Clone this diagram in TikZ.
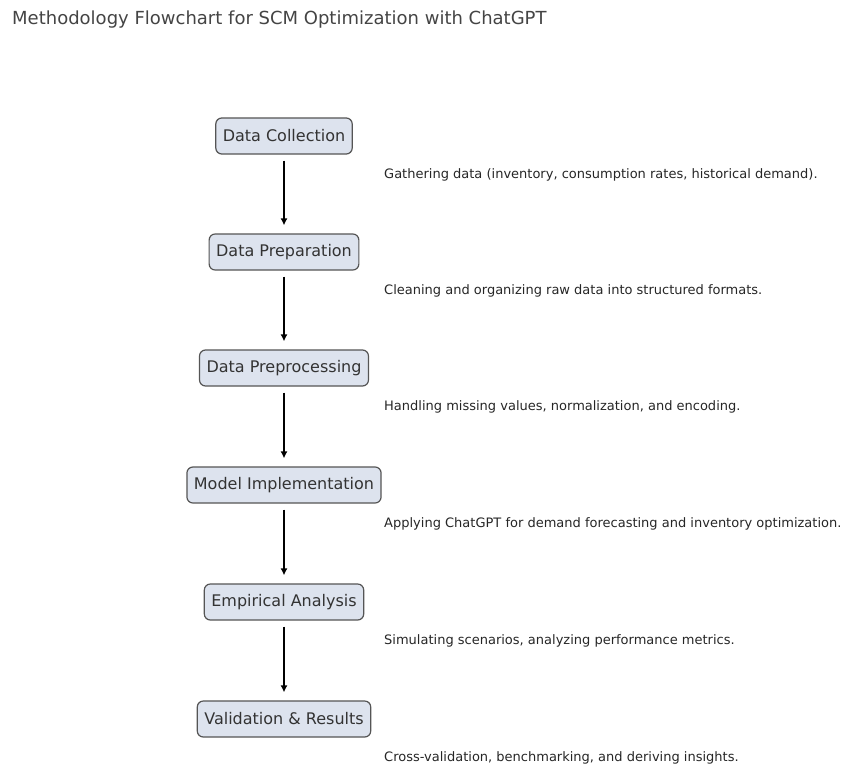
\documentclass[tikz,border=0pt]{standalone}
\usepackage{fontspec}
\setmainfont{DejaVu Sans}
\usetikzlibrary{arrows.meta,positioning}
\definecolor{boxfill}{HTML}{DDE3EE}
\definecolor{boxline}{HTML}{555555}
\definecolor{titlegray}{HTML}{444444}

\begin{document}
\begin{tikzpicture}[
  x=1pt,y=-1pt,
  >={Latex[length=7pt,width=7pt]},
  stage/.style={draw=boxline,fill=boxfill,rounded corners=6pt,line width=1.2pt,
    minimum height=36pt,inner xsep=7pt,text=black!80,font=\fontsize{16}{19}\selectfont},
  note/.style={anchor=west,inner sep=0,text=black!85,font=\fontsize{13}{15}\selectfont},
]
  \useasboundingbox (0,0) rectangle (843,765);
  \node[anchor=west,inner sep=0,text=titlegray,font=\fontsize{18}{21}\selectfont] (title) at (12,20)
    {Methodology Flowchart for SCM Optimization with ChatGPT};
  \foreach \n/\y/\s/\d in {
    1/136/Data Collection/{Gathering data (inventory, consumption rates, historical demand).},
    2/252/Data Preparation/{Cleaning and organizing raw data into structured formats.},
    3/368/Data Preprocessing/{Handling missing values, normalization, and encoding.},
    4/485/Model Implementation/{Applying ChatGPT for demand forecasting and inventory optimization.},
    5/602/Empirical Analysis/{Simulating scenarios, analyzing performance metrics.},
    6/719/Validation \& Results/{Cross-validation, benchmarking, and deriving insights.}}
  {
    \node[stage] (s\n) at (284,\y) {\s};
    \node[note] (d\n) at (384,\y+39) {\d};
  }
  \foreach \a/\b in {1/2,2/3,3/4,4/5,5/6}
    \draw[->,line width=2pt,shorten <=6pt,shorten >=8pt] (s\a) -- (s\b);
\end{tikzpicture}
\end{document}
